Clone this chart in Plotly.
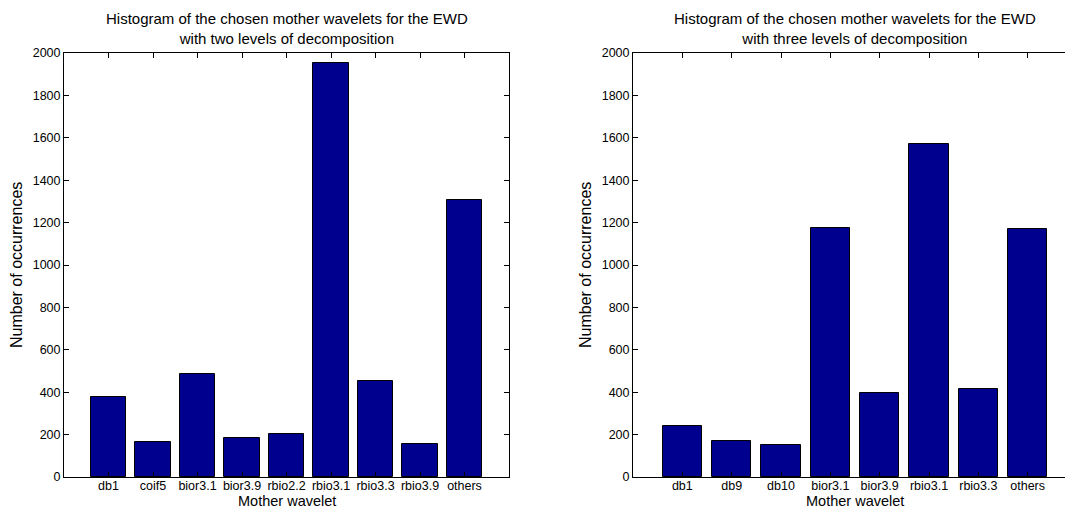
import plotly.graph_objects as go

# Occurrence counts of the selected mother wavelet
cats_two = ["db1", "coif5", "bior3.1", "bior3.9", "rbio2.2",
            "rbio3.1", "rbio3.3", "rbio3.9", "others"]
counts_two = [378, 164, 488, 183, 202, 1955, 452, 154, 1305]

cats_three = ["db1", "db9", "db10", "bior3.1", "bior3.9",
              "rbio3.1", "rbio3.3", "others"]
counts_three = [242, 168, 152, 1176, 397, 1572, 417, 1172]

y_ticks = [0, 200, 400, 600, 800, 1000, 1200, 1400, 1600, 1800, 2000]

# page / axes geometry in pixels
W, H = 1065, 510
TOP, BOTTOM = 53, 477
LEFT_BOX = (64, 509)
RIGHT_BOX = (633, 1077)   # second axes box runs past the page edge

FONT = "Liberation Sans, Arial, Helvetica, sans-serif"
BAR_COLOR = "rgb(0,0,143)"
TICK_SIZE = 12.5
TITLE_SIZE = 15
XLABEL_SIZE = 14.5
YLABEL_SIZE = 16


def px_x(x):
    return x / W


def px_y(y):
    return (BOTTOM - y) / (BOTTOM - TOP)


fig = go.Figure()

fig.add_trace(go.Bar(
    x=list(range(1, len(cats_two) + 1)), y=counts_two, width=0.8,
    marker=dict(color=BAR_COLOR, line=dict(color="black", width=1)),
    xaxis="x", yaxis="y", showlegend=False, hoverinfo="x+y"))

fig.add_trace(go.Bar(
    x=list(range(1, len(cats_three) + 1)), y=counts_three, width=0.8,
    marker=dict(color=BAR_COLOR, line=dict(color="black", width=1)),
    xaxis="x2", yaxis="y2", showlegend=False, hoverinfo="x+y"))

common_x = dict(showline=True, linecolor="black", linewidth=1, ticks="inside",
                ticklen=5, tickcolor="black", mirror="ticks", showgrid=False,
                zeroline=False, ticklabelstandoff=-3,
                tickfont=dict(size=TICK_SIZE, color="black", family=FONT))
common_y = dict(showline=True, linecolor="black", linewidth=1, ticks="inside",
                ticklen=5, tickcolor="black", showgrid=False, zeroline=False,
                range=[0, 2000], tickvals=y_ticks,
                tickfont=dict(size=TICK_SIZE, color="black", family=FONT))

right_span = len(cats_three) + 1
right_visible = right_span * (W - RIGHT_BOX[0]) / (RIGHT_BOX[1] - RIGHT_BOX[0])

fig.update_layout(
    width=W, height=H,
    margin=dict(l=0, r=0, t=TOP, b=H - BOTTOM, pad=0),
    paper_bgcolor="white", plot_bgcolor="white",
    font=dict(family=FONT, color="black"),
    bargap=0,
    xaxis=dict(domain=[px_x(LEFT_BOX[0]), px_x(LEFT_BOX[1])],
               range=[0, len(cats_two) + 1],
               tickvals=list(range(1, len(cats_two) + 1)), ticktext=cats_two,
               anchor="y", **common_x),
    yaxis=dict(domain=[0, 1], anchor="x", mirror="ticks", **common_y),
    xaxis2=dict(domain=[px_x(RIGHT_BOX[0]), 1],
                range=[0, right_visible],
                tickvals=list(range(1, len(cats_three) + 1)), ticktext=cats_three,
                anchor="y2", **common_x),
    yaxis2=dict(domain=[0, 1], anchor="x2", mirror=False, **common_y),
)

titles = [
    ("Histogram of the chosen mother wavelets for the EWD<br>with two levels of decomposition", LEFT_BOX),
    ("Histogram of the chosen mother wavelets for the EWD<br>with three levels of decomposition", RIGHT_BOX),
]
for text, box in titles:
    cx = (box[0] + box[1]) / 2
    fig.add_annotation(text=text, x=px_x(cx), y=px_y(28), xref="paper", yref="paper",
                       showarrow=False, xanchor="center", yanchor="middle",
                       font=dict(size=TITLE_SIZE, color="black", family=FONT))
    fig.add_annotation(text="Mother wavelet", x=px_x(cx), y=px_y(509.5),
                       xref="paper", yref="paper", showarrow=False,
                       xanchor="center", yanchor="bottom", borderpad=0,
                       font=dict(size=XLABEL_SIZE, color="black", family=FONT))
    fig.add_annotation(text="Number of occurrences", x=px_x(box[0] - 48),
                       y=px_y((TOP + BOTTOM) / 2), xref="paper", yref="paper",
                       showarrow=False, textangle=-90, xanchor="center",
                       yanchor="middle",
                       font=dict(size=YLABEL_SIZE, color="black", family=FONT))

fig.write_html("out.html", config={"displayModeBar": False})
